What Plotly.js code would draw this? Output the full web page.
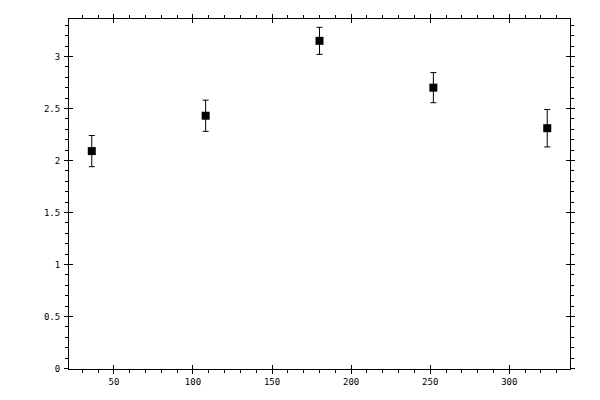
<!DOCTYPE html>
<html>
<head>
<meta charset="utf-8">
<script src="https://cdn.plot.ly/plotly-3.0.1.min.js"></script>
<style>
  html, body { margin: 0; padding: 0; background: #fff; }
  #graph { width: 600px; height: 400px; }
</style>
</head>
<body>
<div id="graph"></div>
<script>
// data
var angles = [36, 108, 180, 252, 324];
var values = [2.09, 2.43, 3.15, 2.70, 2.31];
var errors = [0.15, 0.15, 0.13, 0.145, 0.18];

var xRange = [21.6, 338.4];
var yRange = [-0.005, 3.36];

var tickFont = {family: 'DejaVu Sans Mono', size: 9, color: '#000'};

var points = {
    x: angles,
    y: values,
    type: 'scatter',
    mode: 'markers',
    marker: {symbol: 'square', size: 8, color: '#000'},
    error_y: {type: 'data', array: errors, visible: true, color: '#000', thickness: 1, width: 3},
    showlegend: false,
    cliponaxis: false
};

// an empty trace on the overlay axes so they get drawn
var ghost = {
    x: [], y: [], type: 'scatter', mode: 'markers',
    xaxis: 'x2', yaxis: 'y2', showlegend: false, hoverinfo: 'skip'
};

function baseAxis(range, dtick, minorStep){
    return {
        range: range,
        dtick: dtick,
        showgrid: false,
        zeroline: false,
        showline: true,
        linecolor: '#000',
        linewidth: 1,
        mirror: 'ticks',
        ticks: 'outside',
        ticklen: 4,
        tickwidth: 1,
        tickcolor: '#000',
        tickfont: tickFont,
        minor: {dtick: minorStep, ticks: 'outside', ticklen: 3, tickwidth: 1, tickcolor: '#000', showgrid: false}
    };
}

var xa = baseAxis(xRange, 50, 10);
var ya = baseAxis(yRange, 0.5, 0.1);
ya.ticklabelstandoff = 2;

// inside half of the major ticks
var xa2 = {
    range: xRange, dtick: 50, overlaying: 'x', showgrid: false, zeroline: false,
    showline: false, mirror: 'ticks', ticks: 'inside', ticklen: 4, tickwidth: 1,
    tickcolor: '#000', showticklabels: false
};
var ya2 = {
    range: yRange, dtick: 0.5, overlaying: 'y', showgrid: false, zeroline: false,
    showline: false, mirror: 'ticks', ticks: 'inside', ticklen: 4, tickwidth: 1,
    tickcolor: '#000', showticklabels: false
};

var layout = {
    width: 600,
    height: 400,
    margin: {l: 69, r: 30, t: 19, b: 31},
    paper_bgcolor: '#fff',
    plot_bgcolor: '#fff',
    xaxis: xa,
    yaxis: ya,
    xaxis2: xa2,
    yaxis2: ya2
};

Plotly.newPlot('graph', [points, ghost], layout, {staticPlot: true});
</script>
</body>
</html>
